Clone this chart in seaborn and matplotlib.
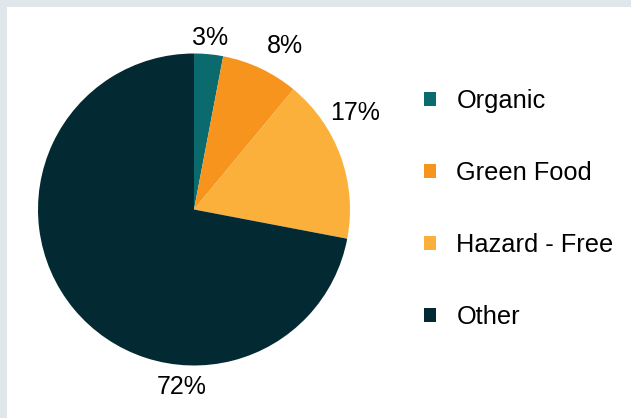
import matplotlib
matplotlib.use("Agg")
import matplotlib.pyplot as plt
from matplotlib.patches import Rectangle, Patch
import seaborn as sns

categories = ["Organic", "Green Food", "Hazard - Free", "Other"]
shares = [3, 8, 17, 72]
pct_labels = ["3%", "8%", "17%", "72%"]
colors = ["#0a6a6e", "#f7941d", "#fbb03b", "#032a33"]

# label anchor points in pie data units (radius = 1)
label_xy = [(0.10, 1.10), (0.58, 1.05), (1.03, 0.62), (-0.08, -1.14)]

sns.set_theme(style="white")
plt.rcParams["font.family"] = ["Liberation Sans", "DejaVu Sans"]
plt.rcParams["text.color"] = "black"

fig = plt.figure(figsize=(6.31, 4.18), dpi=100)
fig.patch.set_facecolor("#dfe7ea")
panel = Rectangle((7 / 631, 0), 1, 1 - 7 / 418, transform=fig.transFigure,
                  facecolor="white", edgecolor="none", zorder=-10)
fig.add_artist(panel)

W, H = 631, 418
cx, cy, r = 194, 209.5, 156
ax = fig.add_axes([(cx - r) / W, (H - cy - r) / H, 2 * r / W, 2 * r / H])
ax.set_zorder(1)
ax.set_facecolor("none")
wedges, _ = ax.pie(shares, colors=colors, startangle=90, counterclock=False,
                   radius=1.0, wedgeprops=dict(edgecolor="none", linewidth=0))
ax.set_xlim(-1, 1)
ax.set_ylim(-1, 1)
ax.set_aspect("equal")
ax.axis("off")

for txt, (x, y) in zip(pct_labels, label_xy):
    ax.text(x, y, txt, ha="center", va="center", fontsize=18, color="black", clip_on=False)

handles = [Patch(facecolor=c, edgecolor="none") for c in colors]
leg = fig.legend(handles, categories, loc="upper left", bbox_to_anchor=(414 / W, 1 - 79 / H),
                 frameon=False, fontsize=18.3, handlelength=0.45, handleheight=0.45,
                 handletextpad=0.82, labelspacing=1.89, borderaxespad=0)
leg.set_zorder(2)
for t in leg.get_texts():
    t.set_color("black")

fig.savefig("out.png", dpi=100, facecolor=fig.get_facecolor())
